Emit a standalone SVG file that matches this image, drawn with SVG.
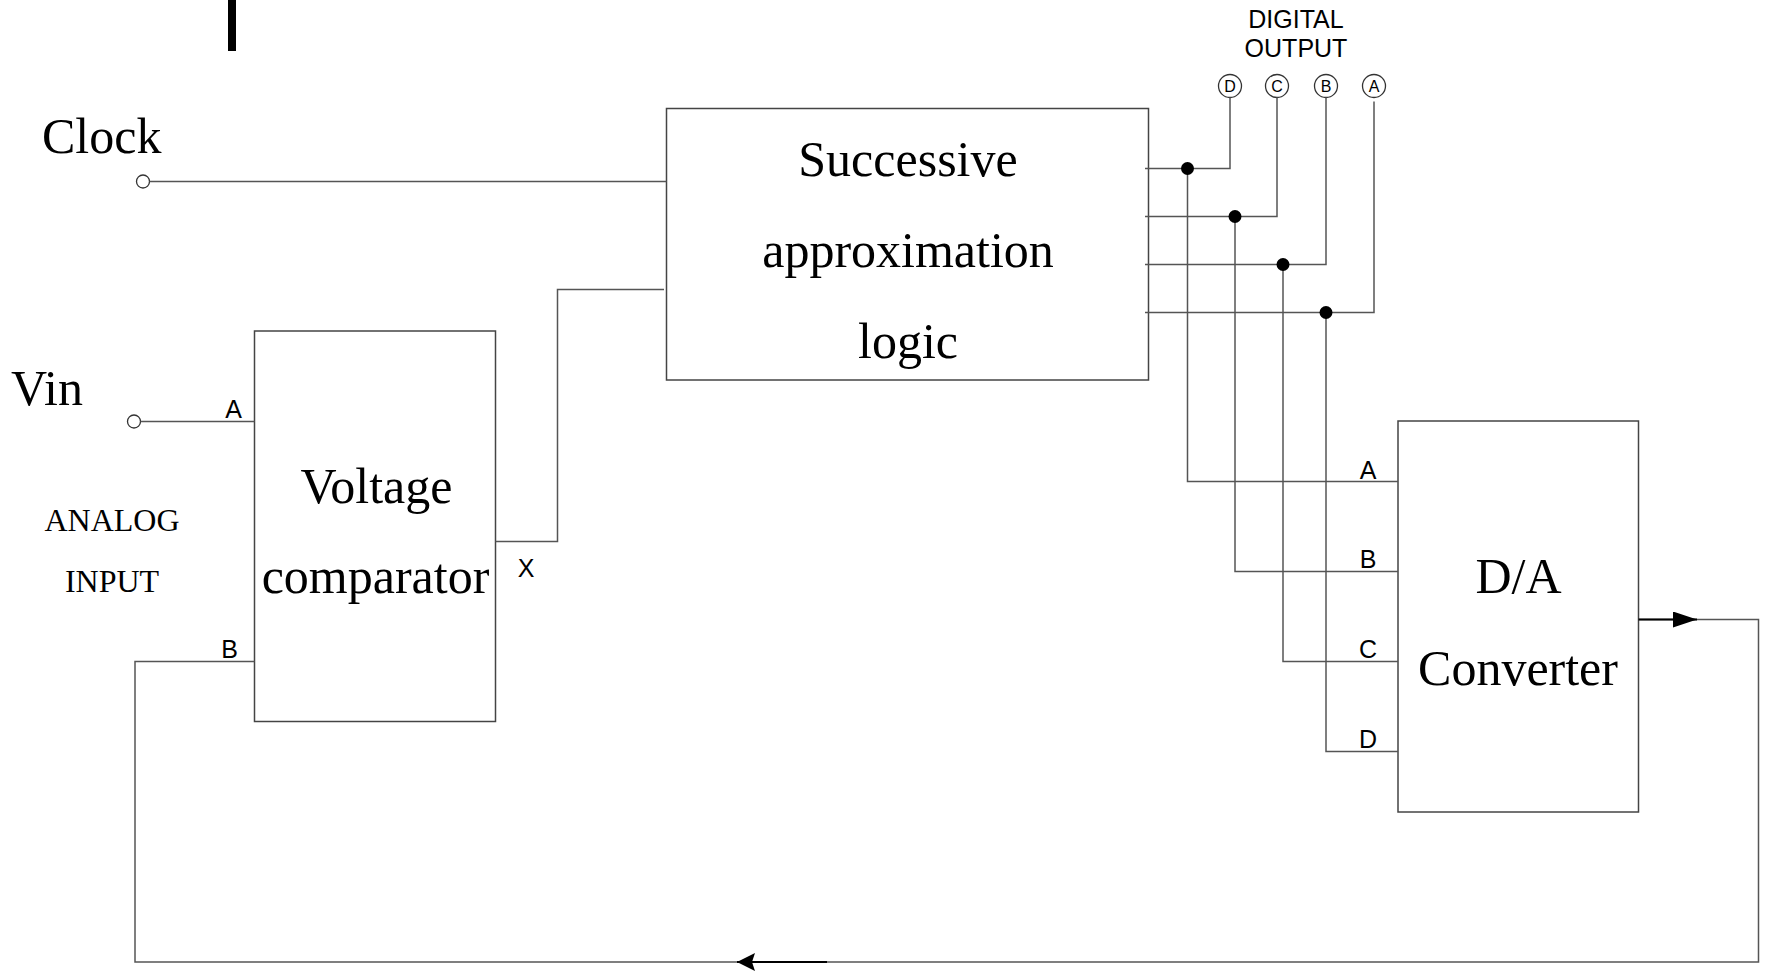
<svg xmlns="http://www.w3.org/2000/svg" width="1766" height="976" viewBox="0 0 1766 976">
  <style>
    .box { fill: none; stroke: #444; stroke-width: 1.5; }
    .wire { fill: none; stroke: #555; stroke-width: 1.5; }
    .sig { fill: none; stroke: #000; stroke-width: 2; }
    .term { fill: #fff; stroke: #333; stroke-width: 1.3; }
    .dot { fill: #000; }
    .big { font-family: "Liberation Serif", "Times New Roman", serif; font-size: 50px; fill: #000; }
    .mid { font-family: "Liberation Serif", "Times New Roman", serif; font-size: 32px; fill: #000; }
    .pin { font-family: "Liberation Sans", Arial, sans-serif; font-size: 25px; fill: #000; }
    .tag { font-family: "Liberation Sans", Arial, sans-serif; font-size: 16px; fill: #000; }
  </style>
  <defs>
    <marker id="headFlat" markerUnits="userSpaceOnUse" markerWidth="26" markerHeight="18" refX="24" refY="8" orient="auto">
      <path d="M0,0 L24,8 L0,16 Z" fill="#000"/>
    </marker>
    <marker id="headBarb" markerUnits="userSpaceOnUse" markerWidth="22" markerHeight="20" refX="18" refY="9" orient="auto">
      <path d="M0,0 L18,9 L0,18 L3,9 Z" fill="#000"/>
    </marker>
  </defs>

  <rect width="1766" height="976" fill="#fff"/>

  <!-- stray cursor bar at the top -->
  <rect x="228" y="0" width="8" height="51" fill="#000"/>

  <!-- free-standing labels -->
  <text class="big" x="42" y="153">Clock</text>
  <text class="big" x="11" y="405">Vin</text>
  <text class="mid" x="112" y="531" text-anchor="middle">ANALOG</text>
  <text class="mid" x="112" y="592" text-anchor="middle">INPUT</text>
  <text class="pin" x="1296" y="28" text-anchor="middle">DIGITAL</text>
  <text class="pin" x="1296" y="57" text-anchor="middle">OUTPUT</text>

  <!-- input terminals -->
  <g id="clock-in">
    <circle class="term" cx="143" cy="181.5" r="6.5"/>
  </g>
  <g id="vin-in">
    <circle class="term" cx="134" cy="421.5" r="6.5"/>
  </g>

  <!-- digital output terminals -->
  <g id="out-D">
    <circle class="term" cx="1230" cy="86" r="11.5"/>
    <text class="tag" x="1230" y="92" text-anchor="middle">D</text>
  </g>
  <g id="out-C">
    <circle class="term" cx="1277" cy="86" r="11.5"/>
    <text class="tag" x="1277" y="92" text-anchor="middle">C</text>
  </g>
  <g id="out-B">
    <circle class="term" cx="1326" cy="86" r="11.5"/>
    <text class="tag" x="1326" y="92" text-anchor="middle">B</text>
  </g>
  <g id="out-A">
    <circle class="term" cx="1374" cy="86" r="11.5"/>
    <text class="tag" x="1374" y="92" text-anchor="middle">A</text>
  </g>

  <!-- comparator -->
  <g id="comparator">
    <rect class="box" x="254.5" y="331" width="241" height="390.5"/>
    <text class="big" x="376.5" y="503" text-anchor="middle">Voltage</text>
    <text class="big" x="375.5" y="593" text-anchor="middle">comparator</text>
    <text class="pin" x="233.5" y="418" text-anchor="middle">A</text>
    <text class="pin" x="229.5" y="658" text-anchor="middle">B</text>
    <text class="pin" x="526" y="577" text-anchor="middle">X</text>
  </g>

  <!-- SAR logic -->
  <g id="sar">
    <rect class="box" x="666.5" y="108.5" width="482" height="271.5"/>
    <text class="big" x="908" y="176" text-anchor="middle">Successive</text>
    <text class="big" x="908" y="267" text-anchor="middle">approximation</text>
    <text class="big" x="908" y="358" text-anchor="middle">logic</text>
  </g>

  <!-- D/A converter -->
  <g id="dac">
    <rect class="box" x="1398" y="421" width="240.5" height="391"/>
    <text class="big" x="1518.5" y="593" text-anchor="middle">D/A</text>
    <text class="big" x="1518" y="685" text-anchor="middle">Converter</text>
    <text class="pin" x="1368" y="479" text-anchor="middle">A</text>
    <text class="pin" x="1368" y="568" text-anchor="middle">B</text>
    <text class="pin" x="1368" y="658" text-anchor="middle">C</text>
    <text class="pin" x="1368" y="748" text-anchor="middle">D</text>
  </g>

  <!-- wiring -->
  <g id="connectors">
    <!-- clock and analog input -->
    <path class="wire" d="M149.5,181.5 H666.5"/>
    <path class="wire" d="M140.5,421.5 H254.5"/>
    <!-- comparator output X to SAR -->
    <path class="wire" d="M495.5,541.5 H557.5 V289.5 H664"/>

    <!-- SAR outputs to the digital output terminals -->
    <path class="wire" d="M1145,168.5 H1230 V97.5"/>
    <path class="wire" d="M1145,216.5 H1277 V97.5"/>
    <path class="wire" d="M1145,264.5 H1326 V97.5"/>
    <path class="wire" d="M1145,312.5 H1374 V101.5"/>

    <!-- taps down to the D/A inputs -->
    <path class="wire" d="M1187.5,168.5 V481.5 H1398"/>
    <path class="wire" d="M1235,216.5 V571.5 H1398"/>
    <path class="wire" d="M1283,264.5 V661.5 H1398"/>
    <path class="wire" d="M1326,312.5 V751.5 H1398"/>
    <circle class="dot" cx="1187.5" cy="168.5" r="6.5"/>
    <circle class="dot" cx="1235" cy="216.5" r="6.5"/>
    <circle class="dot" cx="1283" cy="264.5" r="6.5"/>
    <circle class="dot" cx="1326" cy="312.5" r="6.5"/>

    <!-- feedback from D/A output to comparator input B -->
    <path class="wire" d="M1638.5,619.5 H1758.5 V962 H135 V661.5 H254.5"/>
    <path class="sig" d="M1638.5,619.5 H1697" marker-end="url(#headFlat)"/>
    <path class="sig" d="M827,962 H737" marker-end="url(#headBarb)"/>
  </g>
</svg>
